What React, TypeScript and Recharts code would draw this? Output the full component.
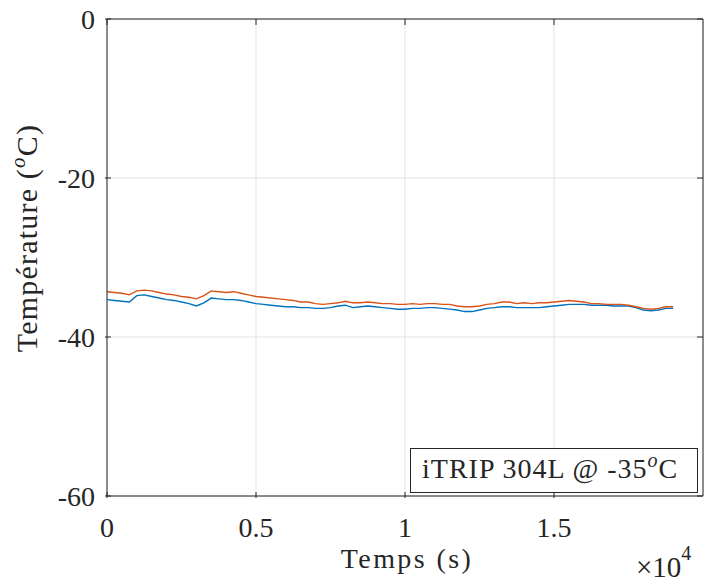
import { LineChart, Line, XAxis, YAxis, CartesianGrid, ReferenceLine } from "recharts";

// time (s), sampled every 250 s
const times = [
  0, 250, 500, 750, 1000, 1250, 1500, 1750, 2000, 2250, 2500, 2750, 3000, 3250, 3500, 3750,
  4000, 4250, 4500, 4750, 5000, 5250, 5500, 5750, 6000, 6250, 6500, 6750, 7000, 7250, 7500, 7750,
  8000, 8250, 8500, 8750, 9000, 9250, 9500, 9750, 10000, 10250, 10500, 10750, 11000, 11250, 11500, 11750,
  12000, 12250, 12500, 12750, 13000, 13250, 13500, 13750, 14000, 14250, 14500, 14750, 15000, 15250, 15500, 15750,
  16000, 16250, 16500, 16750, 17000, 17250, 17500, 17750, 18000, 18250, 18500, 18750, 19000,
];

const sensorA = [
  -35.3, -35.4, -35.5, -35.6, -34.8, -34.7, -34.9, -35.1, -35.3, -35.4, -35.6, -35.8, -36.1, -35.7, -35.1, -35.2,
  -35.3, -35.3, -35.4, -35.6, -35.8, -35.9, -36.0, -36.1, -36.2, -36.2, -36.3, -36.3, -36.4, -36.4, -36.3, -36.1,
  -36.0, -36.3, -36.2, -36.1, -36.2, -36.3, -36.4, -36.5, -36.5, -36.4, -36.4, -36.3, -36.3, -36.4, -36.5, -36.6,
  -36.8, -36.8, -36.6, -36.4, -36.3, -36.2, -36.2, -36.3, -36.3, -36.3, -36.3, -36.2, -36.1, -36.0, -35.9, -35.9,
  -35.9, -36.0, -36.0, -36.0, -36.1, -36.1, -36.1, -36.3, -36.6, -36.7, -36.6, -36.4, -36.4,
];

const sensorB = [
  -34.3, -34.4, -34.5, -34.7, -34.2, -34.1, -34.2, -34.4, -34.6, -34.7, -34.9, -35.0, -35.2, -34.8, -34.2, -34.3,
  -34.4, -34.3, -34.5, -34.7, -34.9, -35.0, -35.1, -35.2, -35.3, -35.4, -35.6, -35.6, -35.8, -35.9, -35.8, -35.7,
  -35.5, -35.7, -35.7, -35.6, -35.7, -35.8, -35.8, -35.9, -35.9, -35.8, -35.9, -35.8, -35.8, -35.9, -35.9, -36.1,
  -36.2, -36.2, -36.1, -35.9, -35.8, -35.6, -35.6, -35.8, -35.7, -35.8, -35.7, -35.7, -35.6, -35.5, -35.4, -35.5,
  -35.6, -35.8, -35.8, -35.9, -35.9, -35.9, -36.0, -36.2, -36.4, -36.5, -36.4, -36.2, -36.2,
];

const xTicks = [0, 5000, 10000, 15000];
const yTicks = [-60, -40, -20, 0];

const data = times.map((t, i) => ({ t, a: sensorA[i], b: sensorB[i] }));

const FONT = "'Liberation Serif', 'Times New Roman', serif";
const INK = "#262626";
const PLOT_TOP = 19;
const PLOT_RIGHT = 703;

function XTick(props: any) {
  const { x, y, payload } = props;
  return (
    <g>
      <line x1={x} y1={y} x2={x} y2={y - 6} stroke={INK} />
      <line x1={x} y1={PLOT_TOP} x2={x} y2={PLOT_TOP + 6} stroke={INK} />
      <text x={x} y={y + 39} textAnchor="middle" style={{ fontFamily: FONT, fontSize: 28, fill: INK }}>
        {String(payload.value / 10000)}
      </text>
    </g>
  );
}

function YTick(props: any) {
  const { x, y, payload } = props;
  return (
    <g>
      <line x1={x} y1={y} x2={x + 6} y2={y} stroke={INK} />
      <line x1={PLOT_RIGHT} y1={y} x2={PLOT_RIGHT - 6} y2={y} stroke={INK} />
      <text x={x - 10} y={y + 10} textAnchor="end" style={{ fontFamily: FONT, fontSize: 28, fill: INK }}>
        {String(payload.value)}
      </text>
    </g>
  );
}

export default function App() {
  return (
    <div style={{ position: "absolute", left: 0, top: 0, width: 704, height: 584, background: "#fff" }}>
      <LineChart width={704} height={584} data={data} margin={{ top: PLOT_TOP, right: 1, bottom: 0, left: 0 }}>
        <CartesianGrid stroke="#e3e3e3" />
        <XAxis
          type="number"
          dataKey="t"
          domain={[0, 20000]}
          ticks={xTicks}
          height={88}
          tickSize={0}
          tickLine={false}
          axisLine={{ stroke: INK }}
          tick={<XTick />}
          interval={0}
        />
        <YAxis
          type="number"
          domain={[-60, 0]}
          ticks={yTicks}
          width={107}
          tickSize={0}
          tickLine={false}
          axisLine={{ stroke: INK }}
          tick={<YTick />}
          interval={0}
        />
        <ReferenceLine y={0} stroke={INK} />
        <ReferenceLine x={20000} stroke={INK} />
        <Line dataKey="a" stroke="#0072BD" strokeWidth={1.4} dot={false} isAnimationActive={false} />
        <Line dataKey="b" stroke="#D95319" strokeWidth={1.4} dot={false} isAnimationActive={false} />
      </LineChart>

      <svg
        width={704}
        height={584}
        style={{ position: "absolute", left: 0, top: 0, pointerEvents: "none", fontFamily: FONT }}
      >
        <text x={407} y={568} textAnchor="middle" fontSize={28} fill={INK} style={{ letterSpacing: 2.4 }}>
          Temps (s)
        </text>
        <text
          x={37}
          y={238}
          textAnchor="middle"
          fontSize={30}
          fill={INK}
          transform="rotate(-90 37 238)"
          style={{ letterSpacing: 1.2 }}
        >
          Température (
          <tspan fontSize={21} fontStyle="italic" dy={-12}>o</tspan>
          <tspan dy={12}>C)</tspan>
        </text>
        <text x={636} y={577} fontSize={29} fill={INK}>
          ×10
          <tspan fontSize={20} dy={-17}>4</tspan>
        </text>
        <rect x={410.5} y={448.5} width={287} height={44} fill="#fff" stroke={INK} strokeWidth={1} />
        <text x={422} y={478} fontSize={28} fill={INK} style={{ letterSpacing: 1 }}>
          iTRIP 304L @ -35
          <tspan fontSize={20} fontStyle="italic" dy={-11}>o</tspan>
          <tspan dy={11}>C</tspan>
        </text>
      </svg>
    </div>
  );
}
